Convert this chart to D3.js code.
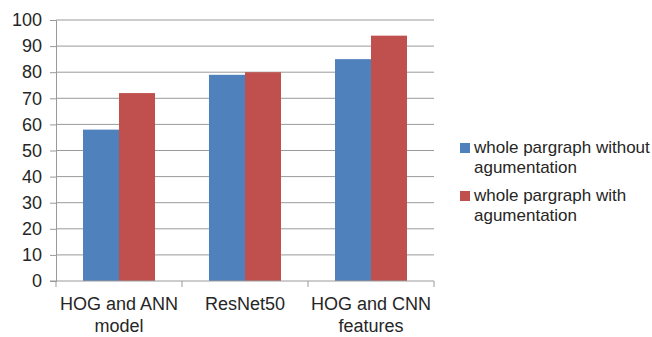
<!DOCTYPE html>
<html><head><meta charset="utf-8">
<script src="https://cdn.jsdelivr.net/npm/d3@7"></script>
<style>body{margin:0;background:#fff}svg{display:block}text{font-family:"Liberation Sans",Arial,sans-serif;fill:#262626}</style>
</head><body><svg id="c" width="652" height="337"></svg>
<script>
const categories = [["HOG and ANN","model"],["ResNet50"],["HOG and CNN","features"]];
const seriesNames = [["whole pargraph without","agumentation"],["whole pargraph with","agumentation"]];
const withoutAug = [58, 79, 85];
const withAug = [72, 80, 94];
const yTicks = [0,10,20,30,40,50,60,70,80,90,100];
const colors = ["#4F81BD","#C0504D"];

const svg = d3.select("#c");
const m = {l:56, r:434, t:20, b:281};
const x = d3.scaleBand().domain(d3.range(categories.length)).range([m.l, m.r]).paddingInner(0).paddingOuter(0);
const inner = d3.scaleBand().domain([0,1]).range([0, x.bandwidth()]).paddingOuter(0.75).paddingInner(0);
const y = d3.scaleLinear().domain([0,100]).range([m.b, m.t]);
const gridCol = "#9a9a9a";

// gridlines
svg.append("g").selectAll("line").data(yTicks.filter(d=>d>0)).join("line")
  .attr("x1", m.l).attr("x2", m.r).attr("y1", d=>y(d)).attr("y2", d=>y(d))
  .attr("stroke", gridCol).attr("stroke-width", 1);

// bars
const series = [withoutAug, withAug];
series.forEach((vals, si) => {
  svg.append("g").selectAll("rect").data(vals).join("rect")
    .attr("x", (d,i)=>x(i)+inner(si)).attr("width", inner.bandwidth())
    .attr("y", d=>y(d)).attr("height", d=>y(0)-y(d))
    .attr("fill", colors[si]);
});

// y axis
const ya = svg.append("g").attr("transform", `translate(${m.l},0)`)
  .call(d3.axisLeft(y).tickValues(yTicks).tickSize(6).tickPadding(8));
ya.select(".domain").attr("stroke", gridCol);
ya.selectAll(".tick line").attr("stroke", gridCol);
ya.selectAll(".tick text").style("font-size","18px").attr("fill","#262626").style("font-family","Liberation Sans, Arial, sans-serif");

// x axis
const xa = svg.append("g");
xa.append("line").attr("x1", m.l-6).attr("x2", m.r).attr("y1", y(0)).attr("y2", y(0)).attr("stroke", gridCol);
const bounds = d3.range(categories.length+1).map(i => i<categories.length ? x(i) : m.r);
xa.selectAll("line.t").data(bounds).join("line").attr("class","t")
  .attr("x1", d=>d).attr("x2", d=>d).attr("y1", y(0)).attr("y2", y(0)+6).attr("stroke", gridCol);
const cl = xa.selectAll("text").data(categories).join("text")
  .attr("text-anchor","middle").style("font-size","18px");
cl.each(function(lines, i){
  d3.select(this).selectAll("tspan").data(lines).join("tspan")
    .attr("x", x(i)+x.bandwidth()/2).attr("y", (d,j)=>310+j*22).text(d=>d);
});

// legend
const lg = svg.append("g");
seriesNames.forEach((lines, si) => {
  const top = 143 + si*48;
  lg.append("rect").attr("x", 460).attr("y", top).attr("width", 10).attr("height", 10).attr("fill", colors[si]);
  const t = lg.append("text").style("font-size","17px");
  t.selectAll("tspan").data(lines).join("tspan").attr("x", 474).attr("y", (d,j)=>top+10+j*20).text(d=>d);
});
</script></body></html>
